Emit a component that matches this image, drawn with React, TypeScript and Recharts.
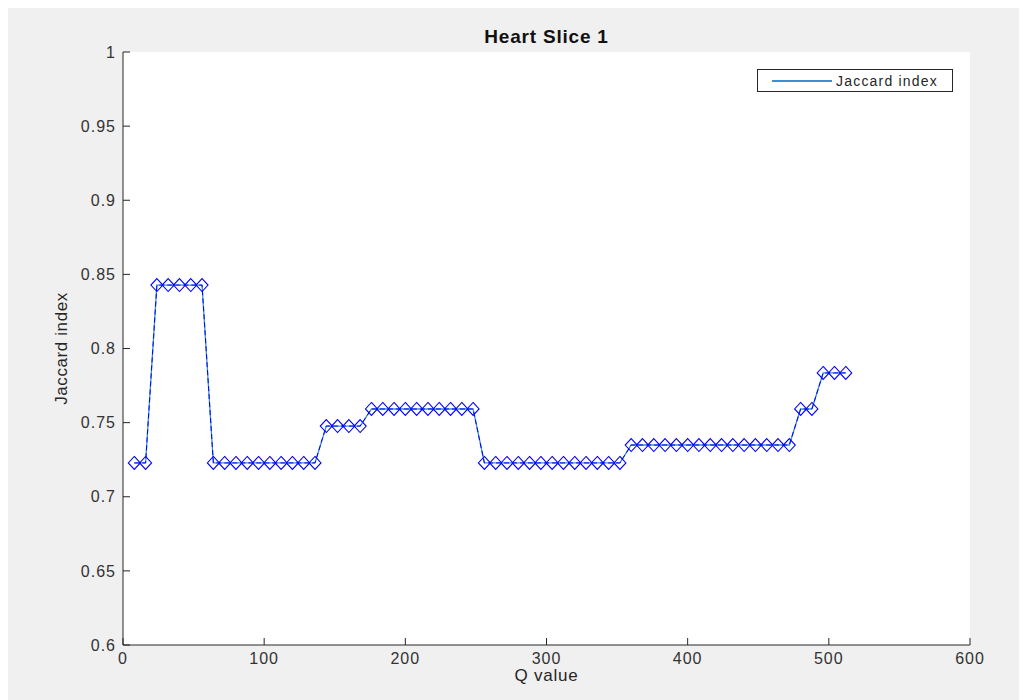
import React from "react";
import {
  LineChart,
  Line,
  XAxis,
  YAxis,
  ReferenceArea,
  Label,
} from "recharts";

const qValues = [
  8, 16, 24, 32, 40, 48, 56, 64, 72, 80, 88, 96, 104, 112, 120, 128, 136, 144,
  152, 160, 168, 176, 184, 192, 200, 208, 216, 224, 232, 240, 248, 256, 264,
  272, 280, 288, 296, 304, 312, 320, 328, 336, 344, 352, 360, 368, 376, 384,
  392, 400, 408, 416, 424, 432, 440, 448, 456, 464, 472, 480, 488, 496, 504,
  512,
];

const jaccardValues = [
  0.7228, 0.7228,
  0.8428, 0.8428, 0.8428, 0.8428, 0.8428,
  0.7228, 0.7228, 0.7228, 0.7228, 0.7228, 0.7228, 0.7228, 0.7228, 0.7228, 0.7228,
  0.7477, 0.7477, 0.7477, 0.7477,
  0.7592, 0.7592, 0.7592, 0.7592, 0.7592, 0.7592, 0.7592, 0.7592, 0.7592, 0.7592,
  0.7228, 0.7228, 0.7228, 0.7228, 0.7228, 0.7228, 0.7228, 0.7228, 0.7228, 0.7228,
  0.7228, 0.7228, 0.7228,
  0.7349, 0.7349, 0.7349, 0.7349, 0.7349, 0.7349, 0.7349, 0.7349, 0.7349, 0.7349,
  0.7349, 0.7349, 0.7349, 0.7349, 0.7349,
  0.7592, 0.7592,
  0.7835, 0.7835, 0.7835,
];

const xTicks = [0, 100, 200, 300, 400, 500, 600];
const yTicks = [0.6, 0.65, 0.7, 0.75, 0.8, 0.85, 0.9, 0.95, 1];

const titleText = "Heart Slice 1";
const xLabel = "Q value";
const yLabel = "Jaccard index";
const seriesName = "Jaccard index";

const data = qValues.map((q, i) => ({ q, jaccard: jaccardValues[i] }));

const FONT = '"Liberation Sans", Arial, Helvetica, sans-serif';
const AXIS = "#262626";
const LINE_COLOR = "#3c8fd6";

const Diamond = (props: any) => {
  const { cx, cy, index } = props;
  if (cx == null || cy == null) return <g key={`d-${index}`} />;
  const w = 6;
  const h = 6.5;
  return (
    <path
      key={`d-${index}`}
      d={`M${cx},${cy - h} L${cx + w},${cy} L${cx},${cy + h} L${cx - w},${cy} Z`}
      fill="none"
      stroke="#0000ff"
      strokeWidth={1.1}
    />
  );
};

const LegendBox = () => (
  <div
    style={{
      position: "absolute",
      left: 750,
      top: 62,
      width: 196,
      height: 23,
      border: "1.3px solid #262626",
      background: "#fff",
      display: "flex",
      alignItems: "center",
      boxSizing: "border-box",
      fontFamily: FONT,
    }}
  >
    <div
      style={{
        marginLeft: 14,
        width: 60,
        height: 2,
        background: LINE_COLOR,
      }}
    />
    <span
      style={{
        marginLeft: 4,
        fontSize: 14,
        letterSpacing: 1.2,
        color: "#262626",
        lineHeight: "14px",
      }}
    >
      {seriesName}
    </span>
  </div>
);

export default function App() {
  return (
    <div
      style={{
        position: "relative",
        width: 1020,
        height: 693,
        marginLeft: -1,
        marginTop: -1,
        background: "#f0f0f0",
        fontFamily: FONT,
      }}
    >
      <div
        style={{
          position: "absolute",
          left: 0,
          top: 19,
          width: 1079,
          textAlign: "center",
          fontWeight: "bold",
          fontSize: 19,
          letterSpacing: 0.8,
          color: "#111",
          lineHeight: "22px",
          fontFamily: FONT,
        }}
      >
        {titleText}
      </div>
      <LineChart
        width={1020}
        height={693}
        data={data}
        margin={{ top: 45, right: 57, bottom: 0, left: 0 }}
      >
        <XAxis
          dataKey="q"
          type="number"
          domain={[0, 600]}
          ticks={xTicks}
          interval={0}
          height={55}
          tickSize={-7}
          tickMargin={15}
          axisLine={{ stroke: AXIS, strokeWidth: 1 }}
          tickLine={{ stroke: AXIS, strokeWidth: 1 }}
          tick={{ fontSize: 16, letterSpacing: 1, fill: "#333", fontFamily: FONT }}
        >
          <Label
            value={xLabel}
            position="insideBottom"
            offset={19}
            style={{ fontSize: 17, letterSpacing: 0.8, fill: "#262626", fontFamily: FONT }}
          />
        </XAxis>
        <YAxis
          type="number"
          domain={[0.6, 1]}
          ticks={yTicks}
          interval={0}
          width={116}
          tickSize={-7}
          tickMargin={14}
          axisLine={{ stroke: AXIS, strokeWidth: 1 }}
          tickLine={{ stroke: AXIS, strokeWidth: 1 }}
          tick={{ fontSize: 16, letterSpacing: 1, fill: "#333", fontFamily: FONT }}
        >
          <Label
            value={yLabel}
            position="insideLeft"
            angle={-90}
            offset={54}
            style={{
              fontSize: 17,
              letterSpacing: 0.6,
              fill: "#262626",
              textAnchor: "middle",
              fontFamily: FONT,
            }}
          />
        </YAxis>
        <ReferenceArea
          x1={0}
          x2={600}
          y1={0.6}
          y2={1}
          fill="#ffffff"
          fillOpacity={1}
          stroke="none"
        />
        <Line
          type="linear"
          dataKey="jaccard"
          name={seriesName}
          stroke={LINE_COLOR}
          strokeWidth={1.3}
          dot={false}
          activeDot={false}
          isAnimationActive={false}
        />
        <Line
          type="linear"
          dataKey="jaccard"
          name="markers"
          legendType="none"
          stroke="#0000ff"
          strokeWidth={1}
          strokeDasharray="5 3"
          dot={Diamond}
          activeDot={false}
          isAnimationActive={false}
        />
      </LineChart>
      <LegendBox />
    </div>
  );
}
